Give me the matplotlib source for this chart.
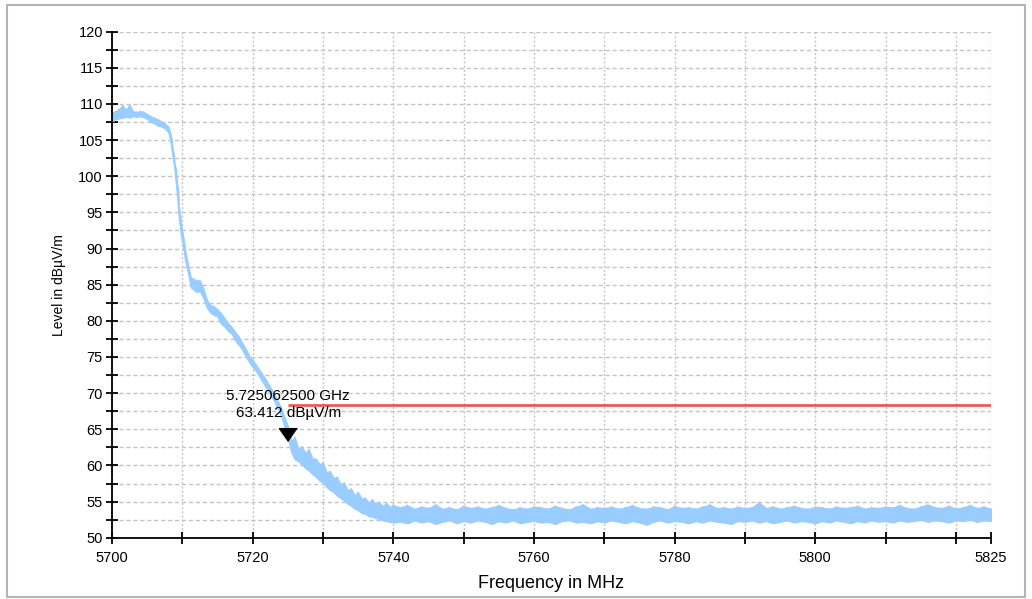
import numpy as np
import matplotlib
matplotlib.use("Agg")
import matplotlib.pyplot as plt
from matplotlib.patches import Rectangle
from matplotlib.ticker import MultipleLocator, FixedLocator

plt.rcParams['font.family'] = ['Liberation Sans', 'DejaVu Sans']

# trace envelope (MHz, low / high level in dBuV/m)
slope_freq = [5700.0, 5700.5, 5701.0, 5701.5, 5702.0, 5702.5, 5703.0, 5703.5, 5704.0, 5704.5,
              5705.0, 5705.5, 5706.0, 5706.5, 5707.0, 5707.5, 5708.0, 5708.3, 5708.6, 5708.9,
              5709.2, 5709.5, 5709.8, 5710.1, 5710.4, 5710.8, 5711.2, 5711.6, 5712.0, 5712.5,
              5713.0, 5713.5, 5714.0, 5714.5, 5715.0, 5715.5, 5716.0, 5716.5, 5717.0, 5717.5,
              5718.0, 5718.5, 5719.0, 5719.5, 5720.0, 5720.5, 5721.0, 5722.0, 5723.0, 5724.0,
              5725.0, 5725.5, 5726.0, 5726.5, 5727.0, 5727.5, 5728.0, 5728.5, 5729.0, 5729.5,
              5730.0, 5730.5, 5731.0, 5731.5, 5732.0, 5732.5, 5733.0, 5733.5, 5734.0, 5734.5,
              5735.0, 5735.5, 5736.0, 5736.5, 5737.0, 5737.5, 5738.0, 5738.5, 5739.0, 5739.5,
              5740.0]
slope_lo = [107.6, 107.9, 108.0, 108.1, 108.2, 108.1, 108.3, 108.2, 108.3, 108.2,
            107.9, 107.5, 107.3, 107.0, 106.9, 106.6, 106.1, 104.8, 102.8, 100.8,
            97.8, 94.3, 91.8, 90.3, 88.3, 86.6, 84.6, 84.3, 84.0, 84.1,
            83.1, 81.8, 81.1, 80.8, 80.6, 79.6, 79.2, 78.6, 78.2, 77.3,
            76.7, 76.0, 75.1, 74.3, 73.6, 73.0, 72.2, 70.6, 69.0, 67.0,
            63.8, 61.8, 60.8, 60.6, 60.1, 59.6, 59.3, 58.8, 58.4, 57.9,
            57.6, 57.0, 56.6, 56.3, 55.8, 55.5, 55.1, 54.7, 54.4, 54.0,
            53.8, 53.4, 53.3, 53.0, 52.9, 52.7, 52.6, 52.4, 52.3, 52.2,
            52.1]
slope_hi = [108.8, 109.0, 109.3, 109.8, 109.2, 109.9, 109.0, 108.9, 109.0, 108.9,
            108.6, 108.3, 108.1, 107.9, 107.6, 107.3, 106.9, 106.0, 104.0, 101.8,
            99.6, 96.0, 93.5, 91.8, 89.8, 87.8, 86.0, 85.8, 85.6, 85.6,
            84.5, 82.9, 82.2, 82.0, 81.6, 81.1, 80.4, 79.7, 79.2, 78.5,
            77.9, 77.0, 76.2, 75.2, 74.6, 73.9, 73.2, 71.7, 70.0, 68.1,
            65.5, 63.4, 63.9, 62.4, 62.6, 61.8, 62.2, 61.0, 60.9, 60.2,
            60.4, 59.1, 59.2, 58.3, 58.4, 57.4, 57.6, 56.6, 56.8, 55.9,
            56.3, 55.4, 55.5, 54.9, 55.3, 54.7, 54.9, 54.4, 54.8, 54.3,
            54.5]

floor_freq = list(range(5741, 5826))
floor_hi = [54.2, 54.5, 54.0, 54.3, 54.1, 54.6, 54.0, 54.2, 53.9, 54.4,
            54.1, 54.3, 54.0, 54.2, 54.5, 54.1, 53.9, 54.2, 54.0, 54.3,
            54.2, 54.0, 54.4, 54.1, 53.9, 54.3, 54.6, 54.0, 54.2, 54.1,
            54.3, 54.0, 54.2, 54.5, 54.1, 54.0, 54.3, 54.2, 53.9, 54.4,
            54.1, 54.2, 54.0, 54.3, 54.6, 54.1, 54.2, 54.0, 54.3, 54.1,
            54.2, 54.9, 54.1, 54.3, 54.0, 54.2, 54.4, 54.1, 54.0, 54.3,
            54.2, 54.0, 54.3, 54.1, 54.2, 54.4, 54.0, 54.2, 54.1, 54.3,
            54.2, 54.5, 54.1, 54.0, 54.3, 54.6, 54.2, 54.1, 54.4, 54.0,
            54.2, 54.5, 54.1, 54.3, 54.0]
floor_lo = [52.2, 52.0, 52.4, 52.1, 52.3, 51.9, 52.2, 52.4, 52.0, 52.3,
            52.1, 52.4, 52.2, 51.9, 52.3, 52.1, 52.4, 52.0, 52.2, 52.3,
            52.1, 52.2, 51.9, 52.3, 52.4, 52.1, 52.2, 52.0, 52.3, 52.1,
            52.4, 52.2, 52.0, 52.3, 52.1, 51.8, 52.2, 52.4, 52.1, 52.3,
            52.2, 52.0, 52.3, 52.1, 52.4, 52.2, 52.1, 51.9, 52.3, 52.2,
            52.4, 52.1, 52.3, 52.0, 52.2, 52.4, 52.1, 52.3, 52.2, 52.0,
            52.3, 52.1, 52.4, 52.2, 52.0, 52.3, 52.1, 52.4, 52.2, 52.3,
            52.1, 52.4, 52.2, 52.3, 52.5, 52.2, 52.4, 52.3, 52.1, 52.4,
            52.3, 52.5, 52.2, 52.4, 52.3]

limit_start = 5725.0
limit_stop = 5825.0
limit_level = 68.3

marker_freq = 5725.0625
marker_level = 63.412
marker_text = "5.725062500 GHz\n63.412 dB\u00b5V/m"

freq = np.array(slope_freq + floor_freq, dtype=float)
lo = np.array(slope_lo + floor_lo)
hi = np.array(slope_hi + floor_hi)

fig = plt.figure(figsize=(10.32, 5.99), dpi=100)
ax = fig.add_axes([0.1085, 0.1023, 0.8518, 0.8448])

# outer frame of the screenshot
fig.patches.append(Rectangle((0.007, 0.004), 0.986, 0.988, transform=fig.transFigure,
                             fill=False, edgecolor="#b4b4b4", linewidth=1.5))

trace_color = "#99ccff"
ax.fill_between(freq, lo, hi, color=trace_color, linewidth=0.8, edgecolor=trace_color, zorder=3)
# zigzag between the envelopes so the band looks noisy
zz_x = np.repeat(freq, 2)
zz_x[1::2] += 0.3
zz_y = np.empty(len(freq) * 2)
zz_y[0::2] = hi
zz_y[1::2] = lo
ax.plot(zz_x, zz_y, color=trace_color, linewidth=1.0, zorder=3)

ax.plot([limit_start, limit_stop], [limit_level, limit_level], color="#f05050",
        linewidth=1.9, zorder=4, solid_capstyle="butt")

tri = [(0, 0), (-0.7, 1), (0.7, 1)]
ax.plot([marker_freq], [marker_level], marker=tri, markersize=18.5, color="black",
        linestyle="none", zorder=5)
ax.text(marker_freq, marker_level + 5.0, marker_text, ha="center", va="center",
        fontsize=11, linespacing=1.25, zorder=6)

ax.set_xlim(5700, 5825)
ax.set_ylim(50, 120)

ax.set_yticks(np.arange(50, 121, 5))
ax.yaxis.set_minor_locator(MultipleLocator(2.5))
ax.set_xticks([5700, 5720, 5740, 5760, 5780, 5800, 5825])
ax.xaxis.set_minor_locator(FixedLocator([5710, 5730, 5750, 5770, 5790, 5810, 5820]))

for s in ["top", "right"]:
    ax.spines[s].set_visible(False)
for s in ["left", "bottom"]:
    ax.spines[s].set_linewidth(1.3)
    ax.spines[s].set_zorder(7)

ax.tick_params(which="both", direction="inout", length=9, width=1.3, labelsize=10.5, pad=2)
ax.tick_params(axis="x", pad=5)

ax.grid(True, axis="y", which="both", color="#c4c4c4", linestyle=(0, (3, 2)), linewidth=1.0)
ax.grid(True, axis="x", which="both", color="#c4c4c4", linestyle=(0, (1.5, 1.5)), linewidth=1.0)
ax.set_axisbelow(True)

ax.set_xlabel("Frequency in MHz", fontsize=13, labelpad=7)
ax.set_ylabel("Level in dB\u00b5V/m", fontsize=10, labelpad=9)

fig.savefig("out.png", dpi=100)
